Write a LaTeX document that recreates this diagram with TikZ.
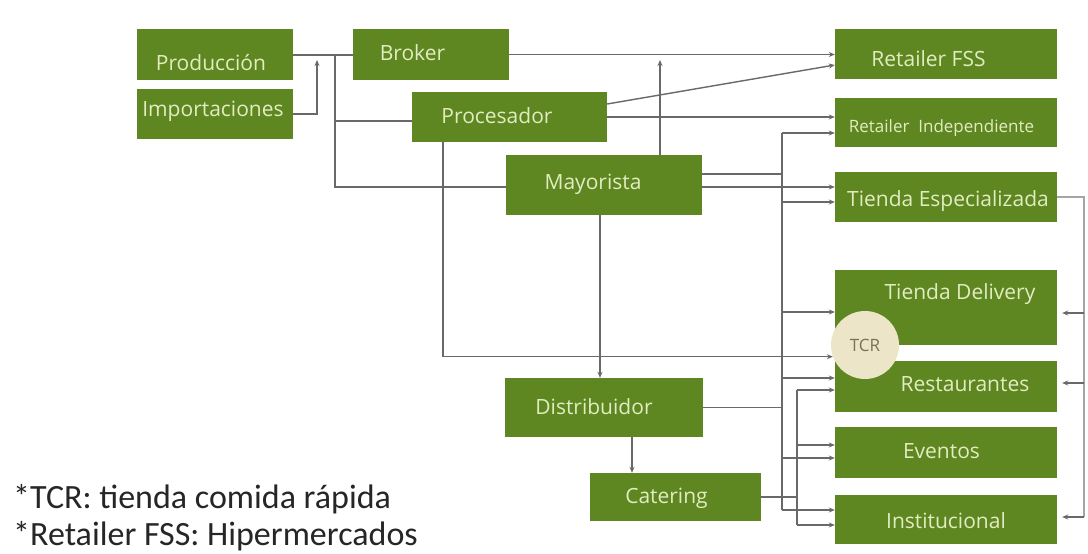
\documentclass[tikz,border=0pt]{standalone}
\usepackage{fontspec}
\setmainfont{Open Sans}
\newfontfamily\notefont{Carlito}
\usetikzlibrary{arrows.meta, positioning, calc}
\definecolor{boxgreen}{RGB}{94,135,33}
\definecolor{boxtxt}{RGB}{226,236,192}
\definecolor{linegray}{RGB}{105,105,105}
\definecolor{tcrfill}{RGB}{236,229,200}
\definecolor{tcrtxt}{RGB}{125,112,84}
\tikzset{
    % Boxes and labels
    box/.style    = {rectangle, fill=boxgreen, inner sep=0pt},
    boxlbl/.style = {font=\fontsize{21}{25}\selectfont, text=boxtxt, inner sep=0pt,
                     text height=15pt, text depth=0pt},
    tcrnode/.style = {circle, fill=tcrfill, minimum size=68pt, inner sep=0pt,
                      font=\fontsize{17}{20}\selectfont, text=tcrtxt},
    note/.style   = {font=\notefont\fontsize{34}{40}\selectfont, text=black!85,
                     inner sep=0pt, anchor=base west},
    % Connectors
    conn/.style  = {draw=linegray, line width=1.4pt},
    arrow/.style = {conn, -{Stealth[length=6pt, width=5pt]}}
}
\begin{document}
\begin{tikzpicture}[x=1pt, y=-1pt]
    \fill[white] (0,0) rectangle (1088,554);
    \useasboundingbox (0,0) rectangle (1088,554);

    % Origin (left column)
    \node (prod) [box, minimum width=156pt, minimum height=51pt,
        label={[boxlbl, shift={(-4,8)}]center:Producción}] at (215,54.5) {};
    \node (imp) [box, minimum width=156pt, minimum height=50pt,
        label={[boxlbl, shift={(-2,-5.5)}]center:Importaciones}] at (215,114) {};

    % Intermediaries
    \node (broker) [box, minimum width=156pt, minimum height=51pt,
        label={[boxlbl, shift={(-18.5,-2)}]center:Broker}] at (431,54.5) {};
    \node (proc) [box, minimum width=195pt, minimum height=50pt,
        label={[boxlbl, shift={(-12.5,-1.5)}]center:Procesador}] at (509.5,117) {};
    \node (mayor) [box, minimum width=196pt, minimum height=60pt,
        label={[boxlbl, shift={(-11,-3.5)}]center:Mayorista}] at (604,185) {};
    \node (dist) [box, minimum width=198pt, minimum height=59pt,
        label={[boxlbl, shift={(-10,-1)}]center:Distribuidor}] at (604,407.5) {};
    \node (cat) [box, minimum width=171pt, minimum height=48pt,
        label={[boxlbl, shift={(-9,-1.5)}]center:Catering}] at (675.5,497) {};

    % Channels (right column)
    \node (rfss) [box, minimum width=222pt, minimum height=50pt,
        label={[boxlbl, shift={(-17.5,5)}]center:Retailer FSS}] at (946,54) {};
    \node (rind) [box, minimum width=222pt, minimum height=49pt,
        label={[boxlbl, font=\fontsize{17}{20}\selectfont, text height=12pt, shift={(-4.5,3.5)}]center:Retailer~~Independiente}] at (946,122.5) {};
    \node (tesp) [box, minimum width=222pt, minimum height=50pt,
        label={[boxlbl, shift={(2,2)}]center:Tienda Especializada}] at (946,197) {};
    \node (tdel) [box, minimum width=222pt, minimum height=75pt,
        label={[boxlbl, shift={(14,-16)}]center:Tienda Delivery}] at (946,307.5) {};
    \node (rest) [box, minimum width=222pt, minimum height=51pt,
        label={[boxlbl, shift={(19,-2.5)}]center:Restaurantes}] at (946,386.5) {};
    \node (evt) [box, minimum width=222pt, minimum height=51pt,
        label={[boxlbl, shift={(-4.5,-2)}]center:Eventos}] at (946,452.5) {};
    \node (inst) [box, minimum width=222pt, minimum height=49pt,
        label={[boxlbl, shift={(0,1)}]center:Institucional}] at (946,519.5) {};
    \node (tcr) [tcrnode] at (865,345) {TCR};

    % Junctions
    \coordinate (jbroker) at (317,55);
    \coordinate (jleft) at (335,55);
    \coordinate (mtop) at (660,55);
    \coordinate (bus1top) at (782,133);
    \coordinate (bus1bot) at (782,510);
    \coordinate (bus2top) at (797,390);
    \coordinate (bus2bot) at (797,525);
    \coordinate (rbot) at (1084,517);

    % --- Connections ---
    \draw[conn] (prod.east |- jleft) -- (broker.west |- jleft);
    \draw[arrow, shorten >=5pt] (imp.east) -| (jbroker);
    \draw[conn] (jleft) |- ([yshift=-2pt]mayor.west);
    \draw[conn] (jleft |- 0,121) -- (proc.west |- 0,121);

    \draw[arrow] (broker.east) -- (broker.east -| rfss.west);
    \draw[arrow] ([yshift=13pt]proc.east) -- ([yshift=-11pt]rfss.west);
    \draw[arrow] (proc.east) -- (proc.east -| rind.west);
    \draw[arrow, shorten >=5pt] (mtop |- mayor.north) -- (mtop);
    \draw[conn] ([yshift=11pt]mayor.east) -- (bus1top |- 0,174);
    \draw[arrow] ([yshift=-2pt]mayor.east) -- (tesp.west |- 0,187);

    % Vertical flows
    \draw[arrow] ([xshift=-66.5pt]proc.south) |- (tcr.200);
    \draw[arrow] ([xshift=-4pt]mayor.south) -- ([xshift=-4pt]dist.north);
    \draw[arrow] ([xshift=28pt]dist.south) -- ([xshift=-43.5pt]cat.north);

    % Distribution buses
    \draw[conn] (bus1top) -- (bus1bot);
    \foreach \n/\y in {rind/133, tesp/202, tdel/312, rest/378, evt/458, inst/510}
        \draw[arrow] (bus1top |- 0,\y) -- (\n.west |- 0,\y);
    \draw[conn] (dist.east) -- (dist.east -| bus1top);
    \draw[conn] (bus2top) -- (bus2bot);
    \foreach \n/\y in {rest/390, evt/445, inst/525}
        \draw[arrow] (bus2top |- 0,\y) -- (\n.west |- 0,\y);
    \draw[conn] (cat.east) -- (cat.east -| bus2top);

    % Return from Tienda Especializada
    \draw[conn, draw=linegray!60] (tesp.east) -| (rbot);
    \foreach \n/\y in {tdel/313, rest/383, inst/517}
        \draw[arrow, shorten >=5pt] (rbot |- 0,\y) -- (\n.east |- 0,\y);

    % Notes
    \node (note1) [note] at (13,508) {*TCR: tienda comida rápida};
    \node (note2) [note] at (13,545) {*Retailer FSS: Hipermercados};
\end{tikzpicture}
\end{document}
